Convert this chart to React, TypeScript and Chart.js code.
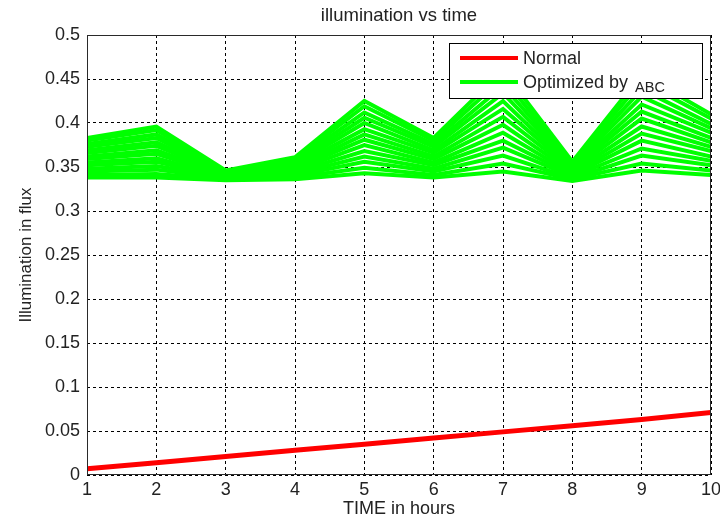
import React, { useEffect, useRef } from "react";
import { Chart, registerables } from "chart.js";

Chart.register(...registerables);

const hours = [1, 2, 3, 4, 5, 6, 7, 8, 9, 10];
const yTicks = [0, 0.05, 0.1, 0.15, 0.2, 0.25, 0.3, 0.35, 0.4, 0.45, 0.5];

const normal = [0.007, 0.014, 0.021, 0.028, 0.035, 0.042, 0.049, 0.056, 0.063, 0.071];

const abc01 = [0.338, 0.338, 0.335, 0.336, 0.343, 0.338, 0.345, 0.334, 0.346, 0.341];
const abc02 = [0.341, 0.342, 0.336, 0.338, 0.349, 0.341, 0.354, 0.336, 0.354, 0.346];
const abc03 = [0.345, 0.347, 0.337, 0.34, 0.356, 0.345, 0.363, 0.337, 0.363, 0.352];
const abc04 = [0.348, 0.351, 0.338, 0.342, 0.362, 0.348, 0.372, 0.339, 0.371, 0.357];
const abc05 = [0.352, 0.356, 0.338, 0.344, 0.368, 0.352, 0.38, 0.341, 0.38, 0.362];
const abc06 = [0.355, 0.36, 0.339, 0.346, 0.375, 0.355, 0.389, 0.342, 0.388, 0.368];
const abc07 = [0.359, 0.365, 0.34, 0.348, 0.381, 0.359, 0.398, 0.344, 0.396, 0.373];
const abc08 = [0.362, 0.369, 0.341, 0.349, 0.387, 0.362, 0.407, 0.346, 0.405, 0.378];
const abc09 = [0.366, 0.374, 0.342, 0.351, 0.393, 0.366, 0.416, 0.348, 0.413, 0.383];
const abc10 = [0.369, 0.378, 0.343, 0.353, 0.4, 0.369, 0.425, 0.349, 0.421, 0.389];
const abc11 = [0.373, 0.383, 0.343, 0.355, 0.406, 0.373, 0.434, 0.351, 0.43, 0.394];
const abc12 = [0.376, 0.387, 0.344, 0.357, 0.412, 0.376, 0.442, 0.353, 0.438, 0.399];
const abc13 = [0.38, 0.392, 0.345, 0.359, 0.419, 0.38, 0.451, 0.354, 0.447, 0.405];
const abc14 = [0.383, 0.396, 0.346, 0.361, 0.425, 0.383, 0.46, 0.356, 0.455, 0.41];

const optimizedRuns = [abc01, abc02, abc03, abc04, abc05, abc06, abc07, abc08, abc09, abc10, abc11, abc12, abc13, abc14];

const titleText = "illumination vs time";
const xTitle = "TIME in hours";
const yTitle = "Illumination in flux";
const legendNormal = "Normal";
const legendOpt = "Optimized by ";
const legendSub = "ABC";

const FONT = "'Liberation Sans', Arial, Helvetica, sans-serif";
const TEXT = "#222222";

export default function App() {
  const ref = useRef<HTMLCanvasElement>(null);

  useEffect(() => {
    document.body.style.margin = "0";
    const canvas = ref.current;
    if (!canvas) return;

    const toPts = (arr: number[]) => hours.map((h, i) => ({ x: h, y: arr[i] }));

    const decor = {
      id: "decor",
      beforeDraw(chart: any) {
        const ctx = chart.ctx;
        ctx.save();
        ctx.fillStyle = "#fff";
        ctx.fillRect(0, 0, chart.width, chart.height);
        ctx.restore();
      },
      afterDatasetsDraw(chart: any) {
        const ctx = chart.ctx;
        const a = chart.chartArea;
        ctx.save();
        // axes box
        ctx.strokeStyle = "#2a2a2a";
        ctx.lineWidth = 1;
        ctx.strokeRect(Math.round(a.left) + 0.5, Math.round(a.top) + 0.5, Math.round(a.right - a.left) - 1, Math.round(a.bottom - a.top) - 1);

        // title
        ctx.fillStyle = TEXT;
        ctx.font = `18.5px ${FONT}`;
        ctx.textAlign = "center";
        ctx.textBaseline = "alphabetic";
        ctx.fillText(titleText, (a.left + a.right) / 2, 21);

        // legend
        const lx = a.right - 262;
        const ly = a.top + 8;
        const lw = 253;
        const lh = 55;
        ctx.fillStyle = "#fff";
        ctx.fillRect(lx, ly, lw, lh);
        ctx.strokeStyle = "#000";
        ctx.lineWidth = 1;
        ctx.strokeRect(lx + 0.5, ly + 0.5, lw, lh);

        ctx.lineWidth = 4;
        ctx.strokeStyle = "#ff0000";
        ctx.beginPath();
        ctx.moveTo(lx + 11, ly + 15);
        ctx.lineTo(lx + 69, ly + 15);
        ctx.stroke();
        ctx.strokeStyle = "#00ff00";
        ctx.beginPath();
        ctx.moveTo(lx + 11, ly + 39);
        ctx.lineTo(lx + 69, ly + 39);
        ctx.stroke();

        ctx.fillStyle = TEXT;
        ctx.textAlign = "left";
        ctx.textBaseline = "alphabetic";
        ctx.font = `18px ${FONT}`;
        ctx.fillText(legendNormal, lx + 74, ly + 21);
        ctx.fillText(legendOpt, lx + 74, ly + 45);
        const w = ctx.measureText(legendOpt).width;
        ctx.font = `14.5px ${FONT}`;
        ctx.fillText(legendSub, lx + 74 + w + 2, ly + 49);
        ctx.restore();
      },
    };

    const datasets: any[] = [
      {
        label: legendNormal,
        data: toPts(normal),
        borderColor: "#ff0000",
        backgroundColor: "#ff0000",
        borderWidth: 5,
        pointRadius: 0,
        tension: 0,
        fill: false,
      },
      ...optimizedRuns.map((run, i) => ({
        label: i === 0 ? "Optimized by ABC" : `run ${i + 1}`,
        data: toPts(run),
        borderColor: "#00ff00",
        backgroundColor: "#00ff00",
        borderWidth: 4,
        pointRadius: 0,
        tension: 0,
        fill: false,
      })),
    ];

    const chart = new Chart(canvas, {
      type: "line",
      data: { datasets },
      options: {
        animation: false,
        responsive: true,
        maintainAspectRatio: false,
        layout: { padding: { top: 35, right: 9, left: 0, bottom: 0 } },
        plugins: {
          legend: { display: false },
          title: { display: false },
          tooltip: { enabled: false },
        },
        scales: {
          x: {
            type: "linear",
            min: 1,
            max: 10,
            afterFit: (s: any) => {
              s.height = 44;
              s.paddingLeft = 0;
              s.paddingRight = 0;
            },
            afterBuildTicks: (s: any) => {
              s.ticks = hours.map((v) => ({ value: v }));
            },
            ticks: {
              color: TEXT,
              font: { family: FONT, size: 18 },
              padding: 4,
              maxRotation: 0,
              autoSkip: false,
              callback: (v: any) => String(v),
            },
            grid: { color: "#000", lineWidth: 1, drawTicks: false },
            border: { display: false, dash: [3, 3] },
            title: {
              display: true,
              text: xTitle,
              color: TEXT,
              font: { family: FONT, size: 18, lineHeight: 1 },
              padding: { top: 0, bottom: 1 },
            },
          },
          y: {
            type: "linear",
            min: 0,
            max: 0.5,
            afterFit: (s: any) => {
              s.width = 87;
              s.paddingTop = 0;
              s.paddingBottom = 0;
            },
            afterBuildTicks: (s: any) => {
              s.ticks = yTicks.map((v) => ({ value: v }));
            },
            ticks: {
              color: TEXT,
              font: { family: FONT, size: 18 },
              padding: 7,
              autoSkip: false,
              callback: (v: any) => String(Number(Number(v).toFixed(2))),
            },
            grid: { color: "#000", lineWidth: 1, drawTicks: false },
            border: { display: false, dash: [3, 3] },
            title: {
              display: true,
              text: yTitle,
              color: TEXT,
              font: { family: FONT, size: 17, lineHeight: 1 },
              padding: { top: 18, bottom: 0 },
            },
          },
        },
      },
      plugins: [decor],
    });

    return () => chart.destroy();
  }, []);

  return (
    <div style={{ width: 720, height: 519, position: "relative" }}>
      <canvas ref={ref} />
    </div>
  );
}
